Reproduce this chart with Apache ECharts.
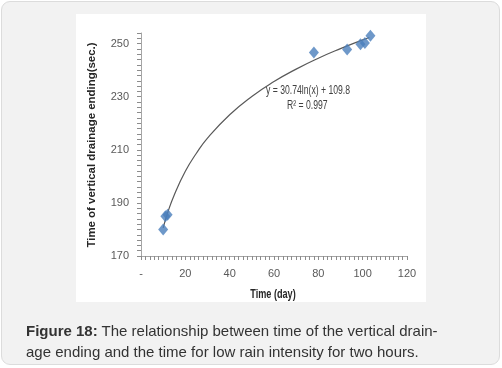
<!DOCTYPE html>
<html>
<head>
<meta charset="utf-8">
<script src="https://cdn.jsdelivr.net/npm/echarts@6/dist/echarts.min.js"></script>
<style>
html,body{margin:0;padding:0;background:#fff;}
#card{position:absolute;left:1px;top:1px;width:497px;height:362px;background:#f2f2f2;border:1px solid #dcdcdc;border-radius:9px;}
#panel{position:absolute;left:76px;top:14px;width:350px;height:288px;background:#fff;}
#chart{position:absolute;left:0;top:0;width:502px;height:368px;}
#cap{position:absolute;left:26px;top:320px;width:460px;font-family:"Liberation Sans",Arial,sans-serif;font-size:15px;line-height:21px;color:#333;}
</style>
</head>
<body>
<div id="card"></div>
<div id="panel"></div>
<div id="chart"></div>
<div id="cap"><b>Figure 18:</b> The relationship between time of the vertical drain-<br>age ending and the time for low rain intensity for two hours.</div>
<script>
// Observed points (day, seconds)
const obsDays = [10, 11, 12, 78, 93, 99, 101, 103.5];
const obsSecs = [180, 185, 185.5, 246.7, 247.8, 249.8, 250.2, 253];
// Trendline (day, seconds)
const trendDays = [10, 12, 15, 20, 25, 30, 40, 50, 60, 70, 80, 90, 100, 103];
const trendSecs = [180.6, 186.2, 193.0, 201.9, 208.7, 214.4, 223.2, 230.1, 235.7, 240.4, 244.5, 248.1, 251.4, 252.3];
// Tick labels
const yTicks = [170, 190, 210, 230, 250];
const xTicks = [0, 20, 40, 60, 80, 100, 120];
const eqText = ['y = 30.74ln(x) + 109.8', 'R\u00b2 = 0.997'];
const xTitle = 'Time (day)';
const yTitle = 'Time of vertical drainage ending(sec.)';

const font = '"Liberation Sans",Arial,sans-serif';
const chart = echarts.init(document.getElementById('chart'), null, {renderer: 'canvas'});
const axisGray = '#a6a6a6';
const tickGray = '#8c8c8c';
chart.setOption({
  backgroundColor: 'transparent',
  animation: false,
  grid: {left: 141, right: 95, top: 33, bottom: 112},
  xAxis: {
    type: 'value', min: 0, max: 120, interval: 2,
    axisLine: {show: true, lineStyle: {color: axisGray}},
    axisTick: {show: true, length: 4, lineStyle: {color: tickGray}},
    splitLine: {show: false},
    axisLabel: {show: true, showMinLabel: true, showMaxLabel: true, fontFamily: font, fontSize: 11, color: '#595959', margin: 12, customValues: xTicks,
      formatter: v => v === 0 ? '-' : String(v)}
  },
  yAxis: {
    type: 'value', min: 170, max: 254, interval: 2,
    axisLine: {show: true, lineStyle: {color: axisGray}},
    axisTick: {show: true, length: 4, lineStyle: {color: tickGray}},
    splitLine: {show: false},
    axisLabel: {fontFamily: font, fontSize: 11, color: '#595959', margin: 12, customValues: yTicks}
  },
  series: [
    {
      type: 'line', smooth: true, symbol: 'none',
      data: trendDays.map((d, i) => [d, trendSecs[i]]),
      lineStyle: {color: '#595959', width: 1.2},
      z: 2
    },
    {
      type: 'scatter', symbol: 'diamond', symbolSize: [10, 12],
      data: obsDays.map((d, i) => [d, obsSecs[i]]),
      itemStyle: {color: '#4a7ebb'},
      z: 3
    }
  ],
  graphic: [
    {type: 'text', x: 266, y: 91, scaleX: 0.72, z: 10,
      style: {text: eqText[0], font: '12px ' + font, fill: '#404040', align: 'left', verticalAlign: 'middle'}},
    {type: 'text', x: 287, y: 106, scaleX: 0.72, z: 10,
      style: {text: eqText[1], font: '12px ' + font, fill: '#404040', align: 'left', verticalAlign: 'middle'}},
    {type: 'text', x: 273, y: 295, scaleX: 0.76, z: 10,
      style: {text: xTitle, font: 'bold 12px ' + font, fill: '#262626', align: 'center', verticalAlign: 'middle'}},
    {type: 'text', x: 92, y: 145, rotation: Math.PI / 2, scaleX: 1.04, z: 10,
      style: {text: yTitle, font: 'bold 11px ' + font, fill: '#262626', align: 'center', verticalAlign: 'middle'}}
  ]
});
</script>
</body>
</html>
